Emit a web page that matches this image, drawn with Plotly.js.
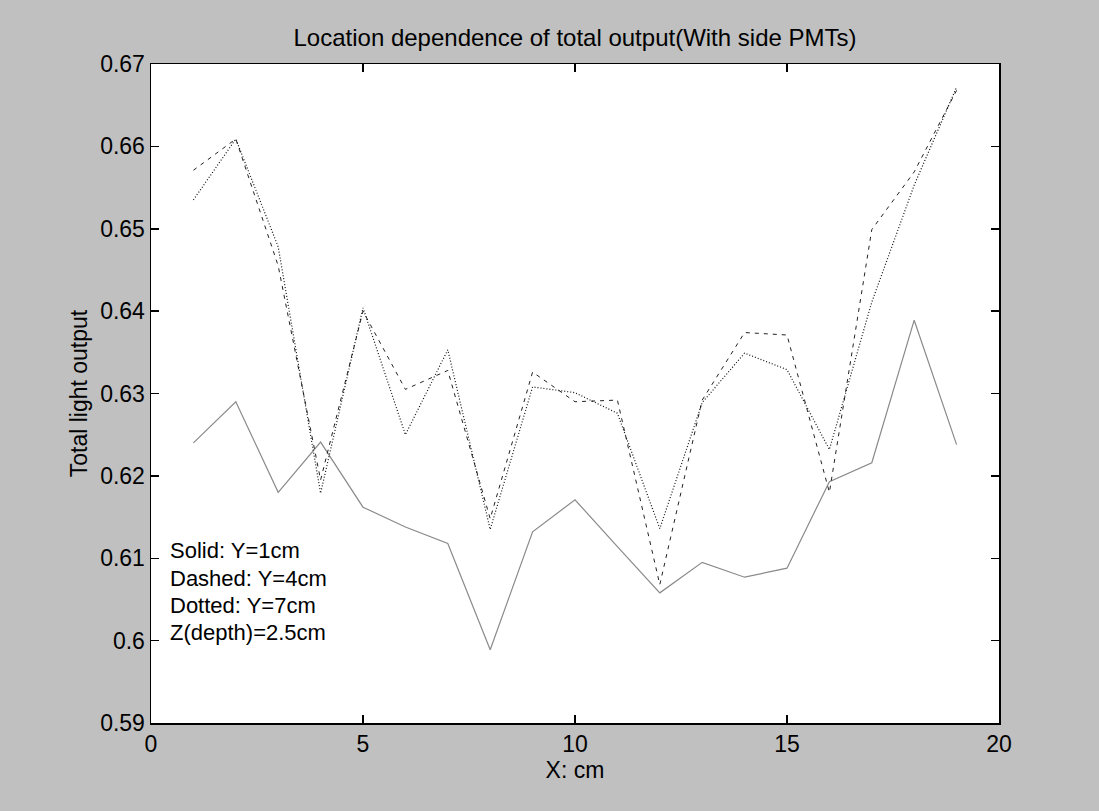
<!DOCTYPE html>
<html>
<head>
<meta charset="utf-8">
<script src="https://cdn.plot.ly/plotly-3.0.1.min.js"></script>
<style>html,body{margin:0;padding:0;background:#c0c0c0;}#chart{width:1099px;height:811px;}</style>
</head>
<body>
<div id="chart"></div>
<script>
// X positions (cm)
var xPos = [1,2,3,4,5,6,7,8,9,10,11,12,13,14,15,16,17,18,19];
// Solid: Y=1cm
var solidY1 = [0.624,0.629,0.618,0.6241,0.6162,0.6138,0.6118,0.5989,0.6132,0.6171,0.6114,0.6058,0.6095,0.6077,0.6088,0.6193,0.6216,0.6389,0.6238];
// Dashed: Y=4cm
var dashedY4 = [0.6571,0.6609,0.6455,0.6195,0.640,0.6305,0.6328,0.6148,0.6326,0.629,0.6292,0.6068,0.6292,0.6374,0.6371,0.618,0.6499,0.6569,0.6668];
// Dotted: Y=7cm
var dottedY7 = [0.6535,0.6609,0.6478,0.6179,0.6404,0.625,0.6353,0.6135,0.6308,0.6301,0.6276,0.6136,0.6289,0.6349,0.6329,0.6232,0.6411,0.6553,0.6672];

var noteLines = ["Solid: Y=1cm","Dashed: Y=4cm","Dotted: Y=7cm","Z(depth)=2.5cm"];
var noteY = [0.6109,0.6076,0.6043,0.6010];

var xTicks = [0,5,10,15,20];
var yTicks = [0.59,0.6,0.61,0.62,0.63,0.64,0.65,0.66,0.67];
var yTickText = ["0.59","0.6","0.61","0.62","0.63","0.64","0.65","0.66","0.67"];

var FONT = "Liberation Sans, Arial, sans-serif";
var FS = 23;

var traces = [
  {x:xPos, y:solidY1, mode:"lines", name:"Solid", line:{color:"#8a8a8a", width:1.2, dash:"solid"}},
  {x:xPos, y:dashedY4, mode:"lines", name:"Dashed", line:{color:"#222", width:1, dash:"4px,5px"}},
  {x:xPos, y:dottedY7, mode:"lines", name:"Dotted", line:{color:"#111", width:1.2, dash:"1px,2px"}}
];

var annotations = noteLines.map(function(t,i){
  return {text:t, x:0.42, y:noteY[i], xref:"x", yref:"y", xanchor:"left", yanchor:"middle",
          showarrow:false, borderpad:0, font:{family:FONT, size:22, color:"#000"}};
});

var axisCommon = {
  showgrid:false, zeroline:false, showline:true, linecolor:"#000", linewidth:1.5,
  mirror:"ticks", ticks:"inside", ticklen:8, tickwidth:1.5, tickcolor:"#000",
  tickfont:{family:FONT, size:FS, color:"#000"}
};

var layout = {
  width:1099, height:811,
  paper_bgcolor:"#c0c0c0", plot_bgcolor:"#ffffff",
  margin:{l:151, r:100, t:64, b:88},
  showlegend:false,
  title:{text:"Location dependence of total output(With side PMTs)", x:0.5, xref:"paper", xanchor:"center",
         y:1, yref:"paper", yanchor:"bottom", pad:{b:18},
         font:{family:FONT, size:24, color:"#000"}},
  xaxis:Object.assign({}, axisCommon, {range:[0,20], tickvals:xTicks, ticktext:xTicks.map(String),
         title:{text:"X: cm", standoff:4, font:{family:FONT, size:FS, color:"#000"}}}),
  yaxis:Object.assign({}, axisCommon, {range:[0.59,0.67], tickvals:yTicks, ticktext:yTickText,
         title:{text:"Total light output", standoff:6, font:{family:FONT, size:FS, color:"#000"}}}),
  annotations:annotations
};

Plotly.newPlot("chart", traces, layout, {displayModeBar:false, staticPlot:true});
</script>
</body>
</html>
